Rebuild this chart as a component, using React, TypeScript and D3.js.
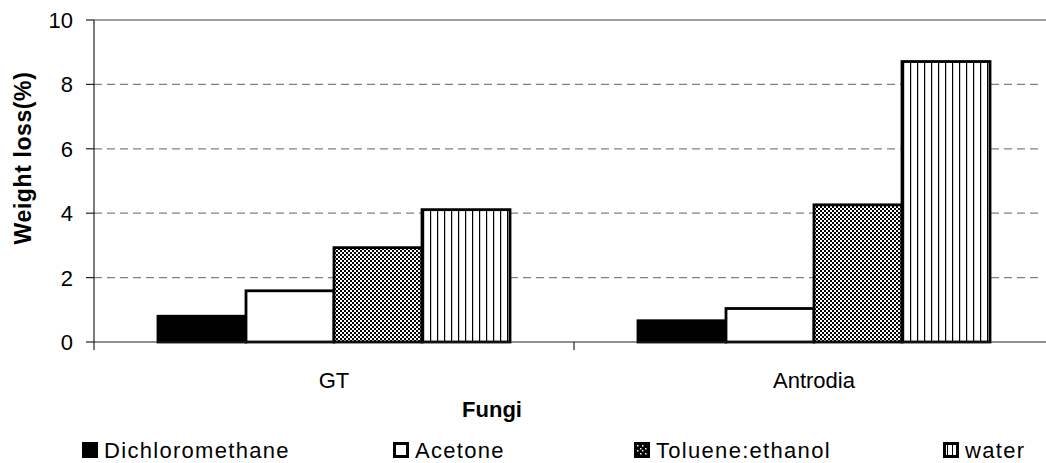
import React from "react";
import * as d3 from "d3";

const width = 1046;
const height = 463;

const fungi = ["GT", "Antrodia"];
const solvents = ["Dichloromethane", "Acetone", "Toluene:ethanol", "water"];
const dichloromethane = [0.8, 0.66];
const acetone = [1.59, 1.04];
const tolueneEthanol = [2.93, 4.26];
const water = [4.11, 8.71];
const yTicks = [0, 2, 4, 6, 8, 10];

const seriesValues = [dichloromethane, acetone, tolueneEthanol, water];
const fills = ["#000", "#fff", "url(#checker)", "url(#vlines)"];

const plot = { left: 94, right: 1054, top: 20, bottom: 342 };
const font = "'Liberation Sans', Arial, sans-serif";

const App = () => {
  const x0 = d3.scaleBand().domain(fungi).range([plot.left, plot.right]);
  const x1 = d3
    .scaleBand()
    .domain(solvents)
    .range([0, x0.bandwidth()])
    .paddingInner(0)
    .paddingOuter(0.727);
  const y = d3.scaleLinear().domain([0, 10]).range([plot.bottom, plot.top]);

  // legend swatch left edges
  const legendX = [82, 393, 634, 943];

  return (
    <svg width={width} height={height} style={{ position: "absolute", left: 0, top: 0, background: "#fff" }}>
      <defs>
        <pattern id="checker" width={4} height={4} patternUnits="userSpaceOnUse">
          <rect width={4} height={4} fill="#fff" />
          <rect width={2} height={2} fill="#000" />
          <rect x={2} y={2} width={2} height={2} fill="#000" />
        </pattern>
        <pattern id="vlines" width={7} height={7} patternUnits="userSpaceOnUse">
          <rect width={7} height={7} fill="#fff" />
          <rect x={0} width={1.2} height={7} fill="#000" />
        </pattern>
        <pattern id="checkerLg" width={5} height={5} patternUnits="userSpaceOnUse">
          <rect width={5} height={5} fill="#000" />
          <rect x={1} y={1} width={1.5} height={1.5} fill="#fff" />
          <rect x={3} y={3} width={1.5} height={1.5} fill="#fff" />
        </pattern>
        <pattern id="vlinesLg" width={5} height={5} patternUnits="userSpaceOnUse">
          <rect width={5} height={5} fill="#fff" />
          <rect x={4} width={1.5} height={5} fill="#000" />
        </pattern>
      </defs>

      {/* gridlines */}
      {yTicks.slice(1, -1).map((t) => (
        <line
          key={t}
          x1={plot.left}
          x2={1040}
          y1={y(t)}
          y2={y(t)}
          stroke="#808080"
          strokeWidth={1.3}
          strokeDasharray="8,5"
        />
      ))}
      <line x1={plot.left} x2={width} y1={y(10)} y2={y(10)} stroke="#808080" strokeWidth={1.3} />

      {/* bars */}
      {fungi.map((f, i) => (
        <g key={f} transform={`translate(${x0(f)},0)`}>
          {solvents.map((s, j) => (
            <rect
              key={s}
              x={x1(s)}
              y={y(seriesValues[j][i])}
              width={x1.bandwidth()}
              height={y(0) - y(seriesValues[j][i])}
              fill={fills[j]}
              stroke="#000"
              strokeWidth={2.8}
            />
          ))}
        </g>
      ))}

      {/* axes */}
      <line x1={plot.left} x2={plot.left} y1={plot.top} y2={plot.bottom} stroke="#222" strokeWidth={1.2} />
      {yTicks.map((t) => (
        <g key={t}>
          <line x1={86} x2={plot.left} y1={y(t)} y2={y(t)} stroke="#222" strokeWidth={1.2} />
          <text x={73} y={y(t)} dy="0.36em" textAnchor="end" fontFamily={font} fontSize={22} fill="#000">
            {t}
          </text>
        </g>
      ))}
      <line x1={plot.left} x2={width} y1={plot.bottom} y2={plot.bottom} stroke="#222" strokeWidth={1.2} />
      {[plot.left, x0("Antrodia")].map((v, i) => (
        <line key={i} x1={v} x2={v} y1={plot.bottom} y2={plot.bottom + 8} stroke="#222" strokeWidth={1.2} />
      ))}
      {fungi.map((f) => (
        <text
          key={f}
          x={(x0(f) as number) + x0.bandwidth() / 2}
          y={388}
          textAnchor="middle"
          fontFamily={font}
          fontSize={22}
          fill="#000"
        >
          {f}
        </text>
      ))}

      <text x={492} y={417} textAnchor="middle" fontFamily={font} fontSize={22} fontWeight="bold">
        Fungi
      </text>
      <text
        transform={`translate(31,158) rotate(-90)`}
        textAnchor="middle"
        fontFamily={font}
        fontSize={23}
        fontWeight="bold"
        letterSpacing={0.6}
      >
        Weight loss(%)
      </text>

      {/* legend */}
      {solvents.map((s, j) => (
        <g key={s} transform={`translate(${legendX[j]},442)`}>
          <rect
            x={1.5}
            y={1.5}
            width={13}
            height={13}
            fill={j === 2 ? "url(#checkerLg)" : j === 3 ? "url(#vlinesLg)" : fills[j]}
            stroke="#000"
            strokeWidth={3}
          />
          <text x={22} y={16} fontFamily={font} fontSize={22} letterSpacing={1.3} fill="#000">
            {s}
          </text>
        </g>
      ))}
    </svg>
  );
};

export default App;
